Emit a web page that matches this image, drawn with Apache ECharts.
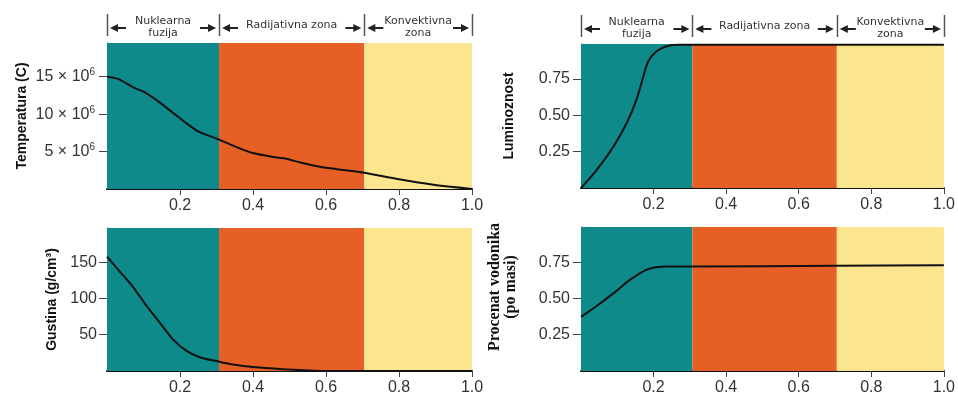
<!DOCTYPE html>
<html>
<head>
<meta charset="utf-8">
<script src="https://cdn.jsdelivr.net/npm/echarts@6/dist/echarts.min.js"></script>
<style>
html,body{margin:0;padding:0;background:#fff;}
#c{width:958px;height:396px;}
</style>
</head>
<body>
<div id="c"></div>
<script>
// ---- Data ----
const zoneBounds = [0, 0.307, 0.705, 1.0];
const zoneColors = ['#0F8A8A', '#E65F25', '#FBE68F'];
const zoneNames = [['Nuklearna', 'fuzija'], ['Radijativna zona'], ['Konvektivna', 'zona']];

const xTicks = [0.2, 0.4, 0.6, 0.8, 1.0];

// Temperature (in 10^6 C)
const tempX = [0, 0.03, 0.075, 0.1, 0.135, 0.18, 0.22, 0.25, 0.307, 0.35, 0.40, 0.466, 0.49, 0.53, 0.58, 0.63, 0.70, 0.80, 0.89, 1.0];
const tempY = [15, 14.7, 13.5, 13.0, 11.9, 10.2, 8.7, 7.7, 6.6, 5.7, 4.8, 4.2, 4.05, 3.55, 3.0, 2.65, 2.2, 1.3, 0.6, 0];
const tempTicks = [5, 10, 15];

// Luminosity
const lumX = [0, 0.044, 0.09, 0.126, 0.153, 0.172, 0.185, 0.208, 0.236, 0.27, 0.31, 0.5, 0.7, 1.0];
const lumY = [0, 0.126, 0.287, 0.447, 0.608, 0.768, 0.87, 0.94, 0.975, 0.985, 0.985, 0.985, 0.985, 0.985];
const lumTicks = [0.25, 0.5, 0.75];

// Density (g/cm3)
const denX = [0, 0.035, 0.071, 0.108, 0.144, 0.18, 0.217, 0.254, 0.306, 0.345, 0.40, 0.48, 0.57, 0.65, 1.0];
const denY = [157.5, 137, 116, 90, 67, 44, 28, 19, 13, 9, 5.4, 2.5, 0.5, 0, 0];
const denTicks = [50, 100, 150];

// Hydrogen mass fraction
const hydX = [0, 0.044, 0.09, 0.135, 0.18, 0.208, 0.236, 0.306, 0.70, 1.0];
const hydY = [0.373, 0.45, 0.537, 0.628, 0.697, 0.715, 0.72, 0.72, 0.725, 0.73];
const hydTicks = [0.25, 0.5, 0.75];

// ---- Chart ----
const chart = echarts.init(document.getElementById('c'));

const grids = [
  {left: 107, top: 43, width: 365, height: 146},
  {left: 581, top: 44, width: 365, height: 144},
  {left: 107, top: 228, width: 365, height: 144},
  {left: 581, top: 227, width: 365, height: 145}
];

function xAxis(i) {
  return {
    type: 'value', gridIndex: i, min: 0, max: 1, interval: 0.2,
    splitLine: {show: false},
    axisLine: {show: true, lineStyle: {color: '#111', width: 2}},
    axisTick: {show: true, length: 6, customValues: xTicks, lineStyle: {color: '#444', width: 1}},
    axisLabel: {customValues: xTicks, margin: 9, fontFamily: 'Liberation Sans', fontSize: 16, color: '#333',
      formatter: v => v.toFixed(1)}
  };
}

function yAxis(i, max, ticks, name, fmt, nameGap, nameStyle, margin, rich) {
  return {
    type: 'value', gridIndex: i, min: 0, max: max,
    splitLine: {show: false},
    axisLine: {show: true, lineStyle: {color: '#2a3a3a', width: 1}},
    axisTick: {show: true, length: 8, customValues: ticks, lineStyle: {color: '#444', width: 1}},
    axisLabel: {customValues: ticks, margin: margin, fontFamily: 'Liberation Sans', fontSize: 16, color: '#333',
      formatter: fmt, rich: rich || {}},
    name: name, nameLocation: 'middle', nameGap: nameGap,
    nameTextStyle: nameStyle
  };
}

const sansBold = {fontFamily: 'Liberation Sans', fontWeight: 'bold', fontSize: 14, color: '#111'};
const serifBold = {fontFamily: 'Liberation Serif', fontWeight: 'bold', fontSize: 16, color: '#111', lineHeight: 16,
  padding: [0, 0, 0, 24]};

function zoneArea() {
  const data = [];
  for (let k = 0; k < zoneColors.length; k++) {
    data.push([{xAxis: zoneBounds[k], itemStyle: {color: zoneColors[k]}}, {xAxis: zoneBounds[k + 1]}]);
  }
  return {silent: true, data: data, itemStyle: {opacity: 1}};
}

function lineSeries(i, xs, ys) {
  return {
    type: 'line', xAxisIndex: i, yAxisIndex: i,
    data: xs.map((x, k) => [x, ys[k]]),
    smooth: 0.3, showSymbol: false, symbol: 'none',
    lineStyle: {color: '#111', width: 2},
    markArea: zoneArea(), z: 3, silent: true
  };
}

const option = {
  animation: false,
  backgroundColor: '#fff',
  grid: grids,
  xAxis: [xAxis(0), xAxis(1), xAxis(2), xAxis(3)],
  yAxis: [
    yAxis(0, 19.5, tempTicks, 'Temperatura (C)', v => v + ' × 10{s|6}', 78, sansBold, 12,
      {s: {fontFamily: 'Liberation Sans', fontSize: 10, color: '#333', verticalAlign: 'top', padding: [0, 0, 8, 0]}}),
    yAxis(1, 0.99, lumTicks, 'Luminoznost', v => v.toFixed(2), 65, sansBold, 11),
    yAxis(2, 197, denTicks, 'Gustina (g/cm³)', v => String(v), 48, sansBold, 10),
    yAxis(3, 0.993, hydTicks, 'Procenat vodonika\n(po masi)', v => v.toFixed(2), 62, serifBold, 11)
  ],
  series: [
    lineSeries(0, tempX, tempY),
    lineSeries(1, lumX, lumY),
    lineSeries(2, denX, denY),
    lineSeries(3, hydX, hydY)
  ]
};

chart.setOption(option);

// ---- Zone header annotations (positions from the axes' scales) ----
function header(gi) {
  const els = [];
  const topY = chart.convertToPixel({yAxisIndex: gi}, gi === 0 ? 19.5 : 0.99);
  const px = x => chart.convertToPixel({xAxisIndex: gi}, x);
  const barTop = topY - 29, barBot = topY - 7, arrowY = topY - 15;
  const col = '#222';
  zoneBounds.forEach(b => {
    const x = Math.round(px(b)) + 0.5;
    els.push({type: 'line', shape: {x1: x, y1: barTop, x2: x, y2: barBot}, style: {stroke: '#555', lineWidth: 1.5}, silent: true});
  });
  for (let k = 0; k < zoneNames.length; k++) {
    const a = px(zoneBounds[k]), b = px(zoneBounds[k + 1]);
    const la = a + 3, lt = a + 19;
    els.push({type: 'line', shape: {x1: la + 5, y1: arrowY, x2: lt, y2: arrowY}, style: {stroke: col, lineWidth: 2}, silent: true});
    els.push({type: 'polygon', shape: {points: [[la, arrowY], [la + 8, arrowY - 4], [la + 8, arrowY + 4]]}, style: {fill: col}, silent: true});
    const ra = b - 3, rt = b - 19;
    els.push({type: 'line', shape: {x1: rt, y1: arrowY, x2: ra - 5, y2: arrowY}, style: {stroke: col, lineWidth: 2}, silent: true});
    els.push({type: 'polygon', shape: {points: [[ra, arrowY], [ra - 8, arrowY - 4], [ra - 8, arrowY + 4]]}, style: {fill: col}, silent: true});
    const cx = (a + b) / 2;
    const lines = zoneNames[k];
    if (lines.length === 1) {
      els.push({type: 'text', style: {text: lines[0], x: cx, y: topY - 18, align: 'center', verticalAlign: 'middle',
        font: '11px "DejaVu Sans"', fill: '#333'}, silent: true});
    } else {
      els.push({type: 'text', style: {text: lines[0], x: cx, y: topY - 22, align: 'center', verticalAlign: 'middle',
        font: '11px "DejaVu Sans"', fill: '#333'}, silent: true});
      els.push({type: 'text', style: {text: lines[1], x: cx, y: topY - 10, align: 'center', verticalAlign: 'middle',
        font: '11px "DejaVu Sans"', fill: '#333'}, silent: true});
    }
  }
  return els;
}

chart.setOption({graphic: header(0).concat(header(1))});
</script>
</body>
</html>
